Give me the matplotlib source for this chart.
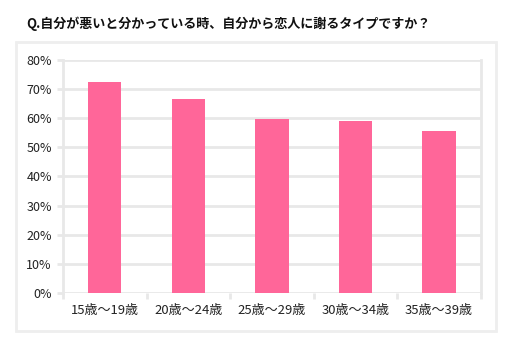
import numpy as np
import matplotlib.pyplot as plt
from matplotlib.patches import Rectangle

plt.rcParams['font.family'] = ['Noto Sans CJK JP', 'DejaVu Sans']

# data
categories = ['15歳～19歳', '20歳～24歳', '25歳～29歳', '30歳～34歳', '35歳～39歳']
values = [72.5, 66.7, 59.8, 58.9, 55.6]
yticks = [0, 10, 20, 30, 40, 50, 60, 70, 80]

GRID = '#e8e8e8'
PINK = '#ff6699'

fig = plt.figure(figsize=(5.12, 3.46), dpi=100)

# outer panel border
fig.patches.append(Rectangle((0.031, 0.043), 0.938, 0.836, transform=fig.transFigure,
                             fill=False, edgecolor='#eeeeee', linewidth=2))

fig.text(0.051, 0.93, 'Q.自分が悪いと分かっている時、自分から恋人に謝るタイプですか？',
         fontsize=9.4, fontweight='bold', color='#111111', va='center', ha='left')

ax = fig.add_axes([0.123, 0.153, 0.816, 0.674])
x = np.arange(len(categories))
ax.bar(x, values, width=0.4, color=PINK, zorder=3)

ax.set_xlim(-0.5, len(categories) - 0.5)
ax.set_ylim(0, 80)
ax.set_yticks(yticks)
ax.set_yticklabels([f'{v}%' for v in yticks])
ax.yaxis.grid(True, color=GRID, linewidth=2)
ax.set_axisbelow(True)

ax.set_xticks(x)
ax.set_xticklabels(categories)
ax.set_xticks(np.arange(-0.5, len(categories)), minor=True)
ax.tick_params(axis='x', which='major', length=0, pad=8, labelsize=9.4, colors='#222222')
ax.tick_params(axis='x', which='minor', length=4, width=2, color=GRID)
ax.tick_params(axis='y', length=4, width=2, color=GRID, labelsize=9, labelcolor='#222222', pad=4)

for s in ['left', 'right']:
    ax.spines[s].set_color(GRID)
    ax.spines[s].set_linewidth(2)
ax.spines['top'].set_visible(False)
ax.spines['bottom'].set_visible(False)

fig.savefig('out.png', dpi=100)
